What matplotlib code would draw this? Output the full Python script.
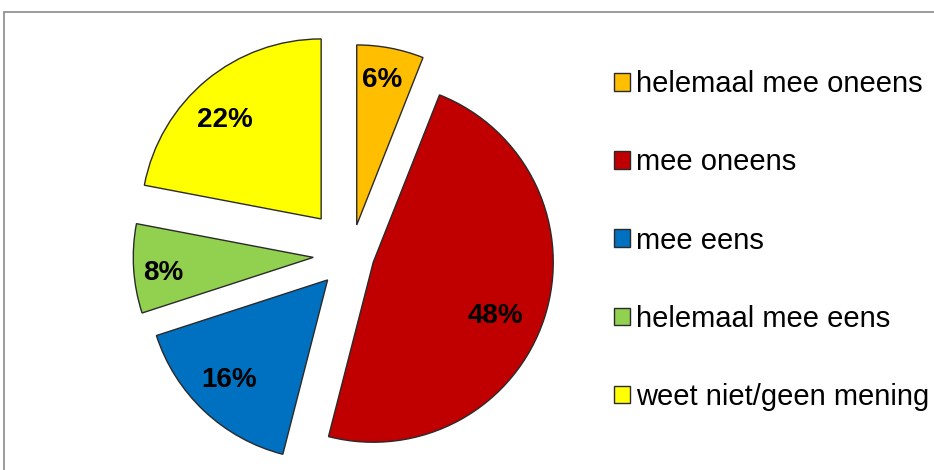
import numpy as np
import matplotlib
matplotlib.use("Agg")
import matplotlib.pyplot as plt
from matplotlib.patches import Rectangle

plt.rcParams['font.family'] = ['Liberation Sans', 'DejaVu Sans']

categories = ["helemaal mee oneens", "mee oneens", "mee eens",
              "helemaal mee eens", "weet niet/geen mening"]
values = [6, 48, 16, 8, 22]

colors = ["#FFBF00", "#C00000", "#0070C0", "#92D050", "#FFFF00"]
explode = [0.17, 0.13, 0.19, 0.21, 0.26]
label_dist = [0.815, 0.74, 0.78, 0.84, 0.77]
label_turn = [-0.9, 6.0, 1.6, -2.3, -4.6]   # clockwise degrees from mid-angle

W, H = 934, 470
fig = plt.figure(figsize=(W / 100, H / 100), dpi=100)
fig.patch.set_facecolor("white")

# grey outer frame (partially cut off at right/bottom)
fig.patches.append(Rectangle((4 / W, -0.1), 2.0, 1 - 12 / H + 0.1,
                             transform=fig.transFigure, fill=False,
                             edgecolor="#8a8a8a", linewidth=1.2))

R = 180.0
cx, cy = 351.0, 255.0
ax_w = 2 * cx
ax_h = 2 * (H - cy)
ax = fig.add_axes([0, 0, ax_w / W, ax_h / H])
ax.axis("off")

wedges, texts, autotexts = ax.pie(
    values, colors=colors, explode=explode, startangle=90,
    counterclock=False, radius=1.0, center=(0, 0),
    autopct=lambda p: f"{p:.0f}%", pctdistance=0.78,
    wedgeprops=dict(edgecolor="#2a2a2a", linewidth=1.0),
    textprops=dict(fontsize=20, fontweight="bold", color="black"),
    frame=False)
ax.set_aspect("auto")
ax.set_xlim(-cx / R, cx / R)
ax.set_ylim(-(H - cy) / R, (H - cy) / R)

for w, t, d, turn in zip(wedges, autotexts, label_dist, label_turn):
    th = np.deg2rad((w.theta1 + w.theta2) / 2 - turn)
    x0, y0 = w.center
    t.set_position((x0 + d * np.cos(th), y0 + d * np.sin(th)))
    t.set_ha("center")
    t.set_va("center")

leg = fig.legend(wedges, categories, loc="center left",
                 bbox_to_anchor=(614 / W, 1 - 240.5 / H),
                 frameon=False, fontsize=21, handlelength=0.55,
                 handleheight=0.55, handletextpad=0.2, labelspacing=1.72,
                 borderpad=0, borderaxespad=0)
for h in leg.legend_handles:
    h.set_linewidth(1.0)
    h.set_edgecolor("#2a2a2a")

fig.savefig("out.png", dpi=100, facecolor="white")
